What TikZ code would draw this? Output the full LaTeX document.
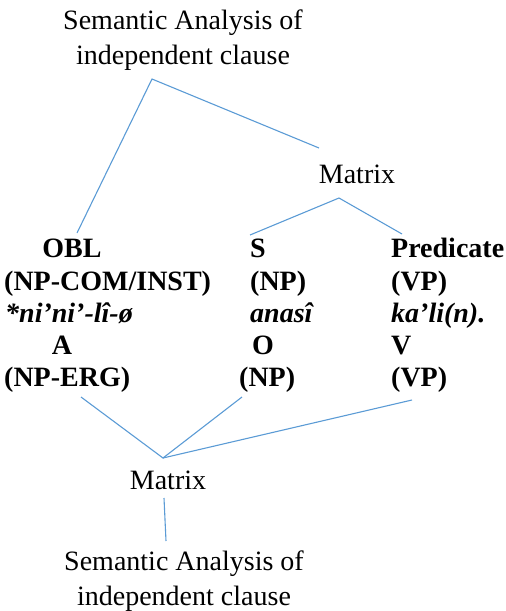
\documentclass[tikz,border=0pt]{standalone}
\usepackage{fontspec}
\setmainfont{Liberation Serif}
\definecolor{lineblue}{HTML}{5B9BD5}
\tikzset{
  reg/.style={inner sep=0pt, font=\fontsize{28}{33}\selectfont},
  bld/.style={inner sep=0pt, font=\fontsize{28}{33}\selectfont\bfseries},
  bit/.style={inner sep=0pt, font=\fontsize{28}{33}\selectfont\bfseries\itshape},
  conn/.style={draw=lineblue, line width=1.1pt}
}
\begin{document}
\begin{tikzpicture}[x=1pt,y=-1pt]
\useasboundingbox (0,0) rectangle (506,611);
% top title
\node[reg, anchor=base] (t1) at (183,29) {Semantic Analysis of};
\node[reg, anchor=base] (t2) at (183,64) {independent clause};
% top matrix
\node[reg, anchor=base] (m1) at (357,183) {Matrix};
% column 1
\node[bld, anchor=base] (obl) at (72,257) {OBL};
\node[bld, anchor=base west] (npcom) at (4,290) {(NP-COM/INST)};
\node[bit, anchor=base west] (nini) at (5,322) {*ni’ni’-lî-ø};
\node[bld, anchor=base] (a) at (62,354) {A};
\node[bld, anchor=base west] (nperg) at (4,386) {(NP-ERG)};
% column 2
\node[bld, anchor=base west] (s) at (250,257) {S};
\node[bld, anchor=base west] (np1) at (250,290) {(NP)};
\node[bit, anchor=base west] (anasi) at (250,322) {anasî};
\node[bld, anchor=base west] (o) at (252,354) {O};
\node[bld, anchor=base west] (np2) at (239,386) {(NP)};
% column 3
\node[bld, anchor=base west] (pred) at (391,257) {Predicate};
\node[bld, anchor=base west] (vp1) at (391,290) {(VP)};
\node[bit, anchor=base west] (kali) at (391,322) {ka’li(n).};
\node[bld, anchor=base west] (v) at (391,354) {V};
\node[bld, anchor=base west] (vp2) at (391,386) {(VP)};
% bottom matrix and title
\node[reg, anchor=base] (m2) at (168,489) {Matrix};
\node[reg, anchor=base] (b1) at (184,570) {Semantic Analysis of};
\node[reg, anchor=base] (b2) at (184,605) {independent clause};
% connector points
\coordinate (topA) at (152,79);
\coordinate (toOBL) at (77,233);
\coordinate (toM1) at (319,148);
\coordinate (m1A) at (339,198);
\coordinate (toS) at (250,235);
\coordinate (toPred) at (402,234);
\coordinate (botA) at (163,458);
\coordinate (fromA) at (81,397);
\coordinate (fromO) at (242,397);
\coordinate (fromV) at (412,400);
\coordinate (m2b) at (164,498);
\coordinate (b1t) at (166,541);
\draw[conn] (toOBL) -- (topA) -- (toM1);
\draw[conn] (toS) -- (m1A) -- (toPred);
\draw[conn] (fromA) -- (botA) -- (fromO);
\draw[conn] (botA) -- (fromV);
\draw[conn] (m2b) -- (b1t);
\end{tikzpicture}
\end{document}
